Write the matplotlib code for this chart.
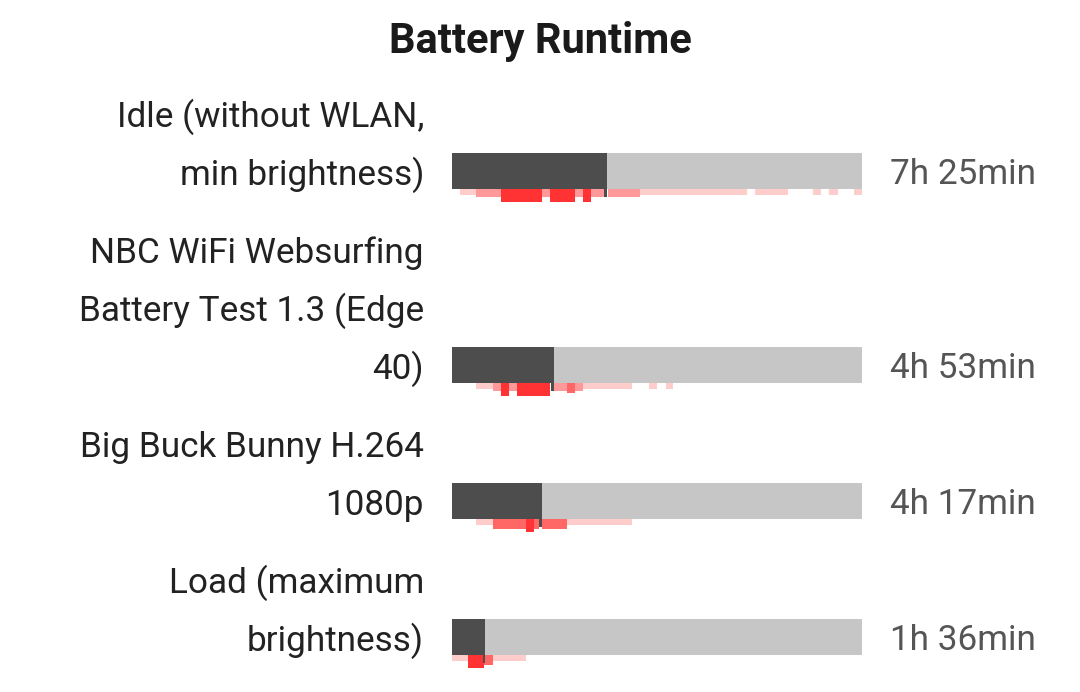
import matplotlib.pyplot as plt

plt.rcParams['font.family'] = ['Roboto', 'DejaVu Sans']

# data
titulo = "Battery Runtime"
tests = [
    ["Idle (without WLAN,", "min brightness)"],
    ["NBC WiFi Websurfing", "Battery Test 1.3 (Edge", "40)"],
    ["Big Buck Bunny H.264", "1080p"],
    ["Load (maximum", "brightness)"],
]
runtime_min = [445, 293, 257, 96]
escala_max = 1175  # minutos que ocupa la barra gris completa

# distribucion de otros equipos: (desde, hasta, nivel)
dist_idle = [(23, 69, 1), (69, 140, 2), (140, 258, 4), (258, 281, 2), (281, 353, 4),
             (353, 375, 2), (375, 398, 4), (398, 439, 2), (447, 539, 2), (539, 845, 1),
             (868, 963, 1), (1035, 1058, 1), (1080, 1106, 1), (1152, 1175, 1)]
dist_wifi = [(69, 118, 1), (118, 140, 2), (140, 163, 4), (163, 186, 2), (186, 281, 4),
             (292, 330, 2), (330, 353, 3), (353, 375, 2), (375, 516, 1), (565, 588, 1),
             (613, 633, 1)]
dist_video = [(69, 118, 1), (118, 212, 3), (212, 235, 4), (235, 249, 3), (258, 330, 3),
              (330, 516, 1)]
dist_load = [(0, 46, 1), (46, 92, 4), (92, 118, 3), (118, 212, 1)]
distribuciones = [dist_idle, dist_wifi, dist_video, dist_load]

colores_nivel = {1: '#ffcccc', 2: '#ff9999', 3: '#ff6666', 4: '#ff3333'}
alto_nivel = {1: 6, 2: 8, 3: 10, 4: 13}

W, H = 1080, 692
fig = plt.figure(figsize=(W / 100, H / 100), dpi=100)
ax = fig.add_axes([452 / W, 0, 410 / W, 1])
ax.set_xlim(0, escala_max)
ax.set_ylim(H, 0)
ax.axis('off')

fig.text(0.5, 1 - 42 / H, titulo, ha='center', va='center',
         fontsize=30, fontweight='bold', color='#1a1a1a')

trans = ax.get_yaxis_transform()
x_label = (424 - 452) / 410
x_valor = (890 - 452) / 410
alto_barra = 36
linea = 58
y = 115
for lineas, valor, dist in zip(tests, runtime_min, distribuciones):
    for i, txt in enumerate(lineas):
        ax.text(x_label, y + i * linea + 2, txt, transform=trans, ha='right', va='center',
                fontsize=25.3, color='#222222')
    yc = y + (len(lineas) - 1) * linea - 2
    ax.barh(yc, escala_max, height=alto_barra, color='#c6c6c6')
    ax.barh(yc, valor, height=alto_barra, color='#4d4d4d')
    base = yc + alto_barra / 2
    for a, b, nivel in dist:
        h = alto_nivel[nivel]
        ax.barh(base + h / 2, b - a, left=a, height=h, color=colores_nivel[nivel])
    ax.barh(base + 4, 8, left=valor - 8, height=8, color='#4d4d4d')
    horas, mins = divmod(valor, 60)
    ax.text(x_valor, yc + 4, f"{horas}h {mins}min", transform=trans, ha='left',
            va='center', fontsize=25.3, color='#555555')
    y = y + (len(lineas) - 1) * linea + 78

fig.savefig('out.png', dpi=100)
